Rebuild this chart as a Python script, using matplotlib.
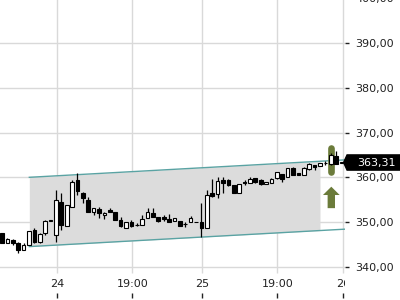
import matplotlib
matplotlib.use("Agg")
import matplotlib.pyplot as plt
import matplotlib.patches as mpatches
from matplotlib.ticker import FuncFormatter
from matplotlib.transforms import blended_transform_factory

# 30-minute candles (index based x-axis)
opens = [347.5, 345.4, 346.0, 345.4, 343.7, 344.9, 348.2, 345.6, 347.5, 350.3,
         347.1, 354.5, 349.0, 353.4, 359.4, 356.6, 354.9, 352.3, 352.9, 351.6,
         352.7, 352.2, 350.4, 348.6, 349.9, 349.3, 349.3, 350.8, 352.0, 351.1,
         351.05, 350.6, 350.2, 350.2, 349.5, 350.07, 350.1, 350.1, 348.7, 356.4,
         356.2, 359.4, 359.4, 358.3, 356.4, 359.0, 358.7, 359.8, 359.4, 358.4,
         358.8, 359.8, 360.7, 360.1, 362.1, 360.9, 360.5, 361.9, 362.75, 362.6,
         363.2, 362.9, 364.8, 363.3]
highs = [347.5, 346.4, 346.3, 345.6, 345.2, 348.0, 348.6, 347.6, 350.4, 350.4,
         357.2, 356.4, 353.8, 359.3, 360.9, 356.7, 355.7, 353.2, 353.4, 352.3,
         353.2, 352.2, 351.1, 350.1, 350.4, 349.7, 351.6, 353.2, 353.1, 351.1,
         351.6, 351.7, 351.0, 350.3, 349.9, 351.4, 350.1, 354.2, 357.2, 359.6,
         360.1, 360.1, 359.6, 358.3, 358.5, 359.4, 360.1, 359.8, 359.6, 359.0,
         359.8, 361.2, 360.7, 362.1, 362.2, 360.9, 362.2, 363.1, 362.8, 363.3,
         363.6, 365.4, 365.9, 363.31]
lows = [345.2, 345.2, 344.9, 343.0, 343.7, 344.9, 345.4, 345.4, 347.1, 350.3,
        345.6, 348.2, 349.0, 353.4, 356.0, 354.2, 352.3, 351.6, 350.8, 350.7,
        352.2, 350.4, 348.8, 348.6, 348.9, 349.0, 349.3, 350.8, 351.2, 349.9,
        350.3, 350.0, 350.2, 349.1, 348.95, 350.0, 350.0, 346.6, 348.7, 355.7,
        355.4, 356.6, 358.1, 356.4, 356.4, 358.3, 358.7, 358.7, 358.3, 358.4,
        358.8, 359.55, 358.9, 360.1, 360.5, 360.5, 360.5, 361.6, 361.6, 362.6,
        362.8, 362.75, 363.0, 363.3]
closes = [345.2, 346.1, 345.4, 343.7, 344.9, 347.9, 345.6, 347.3, 350.2, 350.4,
          354.9, 349.3, 353.8, 359.0, 357.0, 355.3, 352.3, 353.2, 352.0, 352.1,
          352.2, 350.4, 349.0, 349.9, 349.2, 349.35, 350.6, 352.3, 351.2, 350.3,
          350.6, 350.07, 351.0, 349.1, 349.45, 350.96, 350.05, 348.6, 356.0, 355.9,
          359.2, 358.8, 358.3, 356.4, 358.5, 358.7, 359.6, 359.0, 358.4, 359.0,
          359.6, 361.1, 359.55, 362.0, 360.5, 360.5, 362.15, 363.0, 362.2, 363.27,
          363.3, 365.0, 363.0, 363.31]

tick_pos = [10.2, 24.2, 37.2, 51.1, 63.3]
tick_labels = ["24", "19:00", "25", "19:00", "26"]
last_price = 363.31

# trend channel
chan_x = [5.07, 63.64]
chan_upper = [360.0, 363.9]
chan_lower = [344.5, 348.4]
chan_fill_end = 59.0

# signal marker (bar + arrow) at candle 61
sig_x = 61.1
sig_bar = [361.2, 366.5]
arrow_base, arrow_tip = 353.1, 357.9

green = "#6b7b3a"
teal = "#5aa3a3"
grid_c = "#d9d9d9"

plt.rcParams["font.family"] = "DejaVu Sans"
plt.rcParams["font.size"] = 8

fig = plt.figure(figsize=(4, 3), dpi=100)
ax = fig.add_axes([0, 2 / 300, 345 / 400, 299.5 / 300])
ax.set_xlim(-0.371, 63.64)
ax.set_ylim(333.0, 400.0)
for s in ax.spines.values():
    s.set_visible(False)

# grid
ax.set_yticks(range(340, 401, 10))
ax.yaxis.grid(True, color=grid_c, lw=1)
ax.vlines(tick_pos, 338.6, 400, color=grid_c, lw=1, zorder=0.5)
ax.set_axisbelow(True)

# channel
def at(x, xs, ys):
    return ys[0] + (ys[1] - ys[0]) * (x - xs[0]) / (xs[1] - xs[0])

fx = [chan_x[0], chan_fill_end]
ax.fill_between(fx, [at(x, chan_x, chan_lower) for x in fx],
                [at(x, chan_x, chan_upper) for x in fx],
                color="#dcdcdc", lw=0, zorder=1)
ax.plot(chan_x, chan_upper, color=teal, lw=1, zorder=2)
ax.plot(chan_x, chan_lower, color=teal, lw=1, zorder=2)

# signal bar
ax.plot([sig_x, sig_x], sig_bar, color=green, lw=4.8,
        solid_capstyle="round", zorder=2.5)

# candles
idx = list(range(len(opens)))
ax.vlines(idx, lows, highs, color="black", lw=0.9, zorder=3)
bottoms = [min(o, c) for o, c in zip(opens, closes)]
heights = [max(abs(c - o), 0.02) for o, c in zip(opens, closes)]
colors = ["white" if c >= o else "black" for o, c in zip(opens, closes)]
ax.bar(idx, heights, bottom=bottoms, width=0.68, color=colors,
       edgecolor="black", lw=0.8, zorder=4)

# arrow
arr = mpatches.FancyArrow(sig_x, arrow_base, 0, arrow_tip - arrow_base,
                          width=1.37, head_width=3.1, head_length=1.86,
                          length_includes_head=True, color=green, lw=0, zorder=3)
ax.add_patch(arr)

# axes ticks
ax.yaxis.tick_right()
ax.yaxis.set_major_formatter(FuncFormatter(lambda v, p: f"{v:.2f}".replace(".", ",")))
ax.tick_params(axis="y", direction="out", length=3, width=1, pad=4.5,
               colors="#222222", labelsize=8)
ax.set_xticks(tick_pos)
ax.set_xticklabels(tick_labels)
ax.tick_params(axis="x", direction="in", length=3.6, width=1, pad=-14,
               colors="#222222", labelsize=8)
for t in ax.get_xticklabels():
    t.set_clip_on(True)
    t.set_clip_box(ax.bbox)

# last price label
tr = blended_transform_factory(ax.transAxes, ax.transData)
h = 1.7
box = mpatches.Polygon([(0.996, last_price), (1.006, last_price + h),
                        (1.2, last_price + h), (1.2, last_price - h),
                        (1.006, last_price - h)],
                       closed=True, transform=tr, color="black", clip_on=False, zorder=5)
ax.add_patch(box)
ax.text(1.034, last_price, f"{last_price:.2f}".replace(".", ","), transform=tr,
        color="white", fontsize=8, va="center", ha="left", clip_on=False, zorder=6)

fig.savefig("out.png", dpi=100)
